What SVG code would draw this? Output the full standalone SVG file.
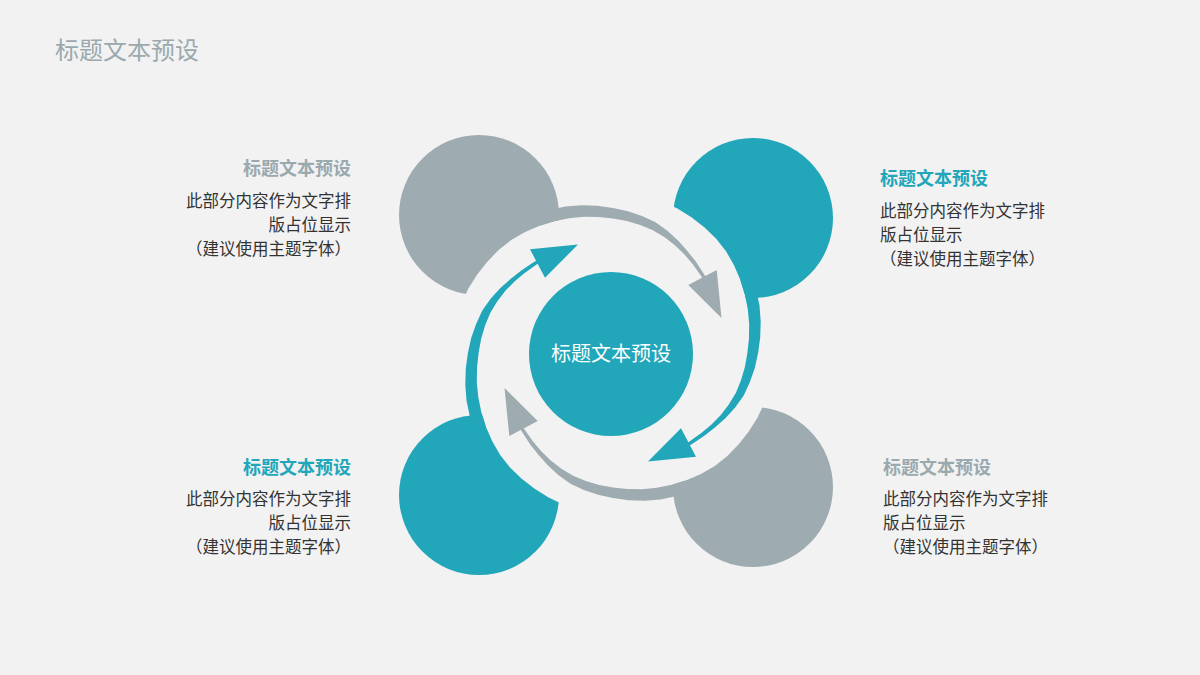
<svg xmlns="http://www.w3.org/2000/svg" xmlns:xlink="http://www.w3.org/1999/xlink" width="1200" height="675" viewBox="0 0 1200 675">
<style>
.bg{fill:#f2f2f2}
.gray{fill:#9eabb0}
.teal{fill:#21a6ba}
.cut{fill:#f2f2f2}
text{font-family:"Noto Sans CJK SC","Noto Sans CJK JP",sans-serif;dominant-baseline:central}
.title{font-size:24px;fill:#9aa9ae}
.h{font-size:18px;font-weight:bold}
.hg{fill:#9aa9ae}
.ht{fill:#21a6ba}
.b{font-size:16.5px;fill:#333333}
.c{font-size:20px;fill:#ffffff}
</style>
<defs>
<path id="band" d="M533.5,215.3 L549.3,209.9 565.4,206.5 581.6,205.3 597.5,205.8 613,207.9 627.9,211.2 642.1,216.1 655.5,222.3 667.4,230.8 678,240.4 687.2,250.8 695.6,261.3 703.9,273.9 706.1,277.6 703.5,279.7 701.3,276.2 692.8,264.3 684.5,254.5 675.2,245.4 664.6,237.2 652.9,230.2 640.2,225 626.9,221.1 613,218.6 598.7,217.05 584.1,216.8 569.2,218.2 554.3,221.2 539.55,225.8 Z"/>
<polygon id="head" points="688.3,285 721.5,318 716.7,270"/>
<polygon id="wedge" points="613,353 452.6,339 456.5,319.7 461.3,303.7 468.4,288.6 477.2,274.6 487.3,261.7 498.6,250 511.2,240 525.1,232.1 539.55,225.8 554.3,221.2 569.2,218.2 584.1,216.8 598.7,217.05"/>
</defs>
<rect class="bg" x="0" y="0" width="1200" height="675"/>
<text class="title" x="55" y="48">标题文本预设</text>

<g id="node-top-left"><circle class="gray" cx="479" cy="215" r="80"/></g>
<g id="node-top-right"><circle class="teal" cx="753" cy="218" r="80"/></g>
<g id="node-bottom-right"><circle class="gray" cx="753" cy="487" r="80"/></g>
<g id="node-bottom-left"><circle class="teal" cx="479" cy="495" r="80"/></g>

<g id="cuts">
<use xlink:href="#wedge" class="cut"/>
<use xlink:href="#wedge" class="cut" transform="rotate(90 613 353)"/>
<use xlink:href="#wedge" class="cut" transform="rotate(180 613 353)"/>
<use xlink:href="#wedge" class="cut" transform="rotate(270 613 353)"/>
</g>

<g id="connectors">
<g class="gray"><use xlink:href="#band"/><use xlink:href="#head"/></g>
<g class="teal" transform="rotate(90 613 353)"><use xlink:href="#band"/><use xlink:href="#head"/></g>
<g class="gray" transform="rotate(180 613 353)"><use xlink:href="#band"/><use xlink:href="#head"/></g>
<g class="teal" transform="rotate(270 613 353)"><use xlink:href="#band"/><use xlink:href="#head"/></g>
</g>

<g id="node-center">
<circle class="teal" cx="611" cy="354" r="82"/>
<text class="c" x="611" y="352" text-anchor="middle">标题文本预设</text>
</g>

<g id="label-top-left" text-anchor="end">
<text class="h hg" x="351" y="167">标题文本预设</text>
<text class="b" x="351" y="200">此部分内容作为文字排</text>
<text class="b" x="351" y="224">版占位显示</text>
<text class="b" x="351" y="248">（建议使用主题字体）</text>
</g>
<g id="label-top-right">
<text class="h ht" x="880" y="177">标题文本预设</text>
<text class="b" x="880" y="210">此部分内容作为文字排</text>
<text class="b" x="880" y="234">版占位显示</text>
<text class="b" x="880" y="258">（建议使用主题字体）</text>
</g>
<g id="label-bottom-left" text-anchor="end">
<text class="h ht" x="351" y="466">标题文本预设</text>
<text class="b" x="351" y="498">此部分内容作为文字排</text>
<text class="b" x="351" y="522">版占位显示</text>
<text class="b" x="351" y="546">（建议使用主题字体）</text>
</g>
<g id="label-bottom-right">
<text class="h hg" x="883" y="466">标题文本预设</text>
<text class="b" x="883" y="498">此部分内容作为文字排</text>
<text class="b" x="883" y="522">版占位显示</text>
<text class="b" x="883" y="546">（建议使用主题字体）</text>
</g>
</svg>
